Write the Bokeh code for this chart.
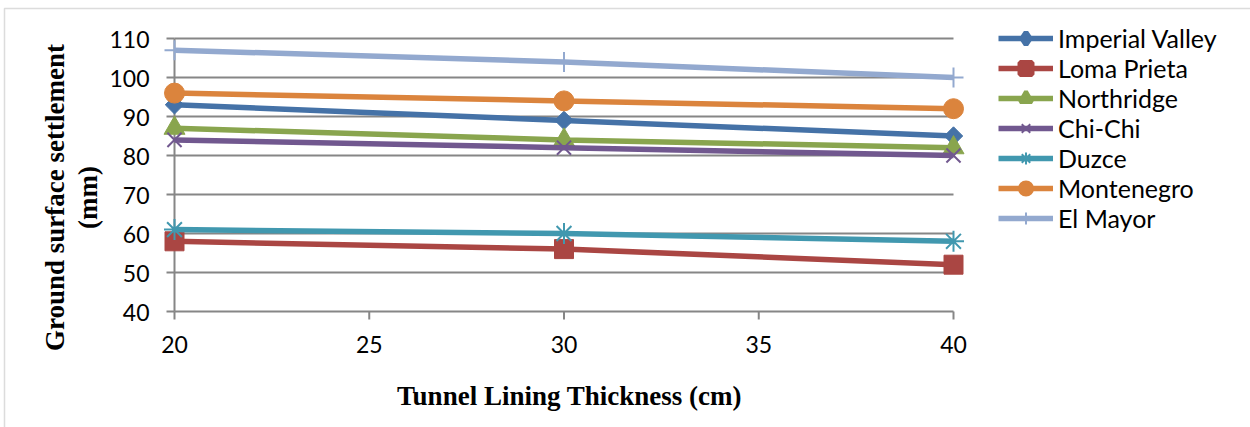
import numpy as np
from bokeh.plotting import figure
from bokeh.models import (Range1d, Legend, LegendItem, Label, BoxAnnotation,
                          ColumnDataSource)
from bokeh.core.properties import value
from bokeh.embed import file_html
from bokeh.resources import INLINE

# ---- data ----
thickness = [20, 30, 40]
series_names = ["Imperial Valley", "Loma Prieta", "Northridge", "Chi-Chi",
                "Duzce", "Montenegro", "El Mayor"]
imperial_valley = [93, 89, 85]
loma_prieta = [58, 56, 52]
northridge = [87, 84, 82]
chi_chi = [84, 82, 80]
duzce = [61, 60, 58]
montenegro = [96, 94, 92]
el_mayor = [107, 104, 100]
x_ticks = [20, 25, 30, 35, 40]
y_ticks = [40, 50, 60, 70, 80, 90, 100, 110]
x_tick_labels = [str(t) for t in x_ticks]
y_tick_labels = [str(t) for t in y_ticks]

values = [imperial_valley, loma_prieta, northridge, chi_chi, duzce,
          montenegro, el_mayor]
colors = ["#4572A7", "#AA4643", "#89A54E", "#71588F", "#4198AF",
          "#DB843D", "#93A9CF"]
# (marker, size, angle, filled, line width, legend marker, legend line width)
markers = [("square", 13, np.pi / 4, True, 1, "diamond", 5),
           ("square", 19, 0, True, 1, "square", 5),
           ("triangle", 21, 0, True, 1, "triangle", 4),
           ("x", 20, 0, False, 2, "x", 2),
           ("asterisk", 21, 0, False, 2, "asterisk", 2),
           ("circle", 20, 0, True, 1, "circle", 4),
           ("cross", 20, 0, False, 2, "cross", 2)]

GRID = "#868686"
W, H = 1250, 427
# pixel geometry of the plotting area (data 20..40 x 40..110)
PX_L, PX_R, PX_T, PX_B = 174, 953, 38, 311
xs = (PX_R - PX_L) / (x_ticks[-1] - x_ticks[0])
ys = (PX_B - PX_T) / (y_ticks[-1] - y_ticks[0])
x0 = x_ticks[0] - PX_L / xs
y0 = y_ticks[0] - (H - PX_B) / ys

p = figure(width=W, height=H, output_backend="svg", toolbar_location=None,
           x_range=Range1d(x0, x0 + W / xs), y_range=Range1d(y0, y0 + H / ys),
           x_axis_location=None, y_axis_location=None,
           min_border=0, min_border_left=0, min_border_right=0,
           min_border_top=0, min_border_bottom=0)
p.outline_line_color = None
p.grid.visible = False
p.background_fill_color = "white"
p.border_fill_color = "white"

xmin, xmax = x_ticks[0], x_ticks[-1]
ymin, ymax = y_ticks[0], y_ticks[-1]

# horizontal gridlines (value axis)
p.segment(x0=[xmin] * len(y_ticks), x1=[xmax] * len(y_ticks),
          y0=y_ticks, y1=y_ticks, line_color=GRID, line_width=2)
# y axis line and ticks
p.segment(x0=[xmin], x1=[xmin], y0=[ymin], y1=[ymax], line_color=GRID,
          line_width=2)
p.ray(x=[xmin] * len(y_ticks), y=y_ticks, length=8, length_units="screen",
      angle=np.pi, line_color=GRID, line_width=2)
# x axis ticks
p.ray(x=x_ticks, y=[ymin] * len(x_ticks), length=8, length_units="screen",
      angle=-np.pi / 2, line_color=GRID, line_width=2)
# tick labels
p.text(x=[xmin] * len(y_ticks), y=y_ticks, text=y_tick_labels,
       x_offset=-25, y_offset=1, text_align="right", text_baseline="middle",
       text_font=value("Lato"), text_font_size=value("23px"),
       text_color="black")
p.text(x=x_ticks, y=[ymin] * len(x_ticks), text=x_tick_labels,
       y_offset=33, text_align="center", text_baseline="middle",
       text_font=value("Lato"), text_font_size=value("23px"),
       text_color="black")

items = []
for name, vals, col, (mk, sz, ang, filled, lw, lmk, llw) in zip(
        series_names, values, colors, markers):
    src = ColumnDataSource(dict(x=thickness, y=vals))
    lr = p.line("x", "y", source=src, line_color=col, line_width=5.5)
    p.scatter("x", "y", source=src, marker=mk, size=sz, angle=ang,
              line_color=col, line_width=lw,
              fill_color=col if filled else None)
    # legend-only marker: a point with no y value, so it is not plotted
    leg_src = ColumnDataSource(dict(x=np.array([float(thickness[0])]),
                                    y=np.array([np.nan])))
    leg = p.scatter("x", "y", source=leg_src, marker=lmk, line_color=col,
                    line_width=llw, fill_color=col if filled else None)
    items.append(LegendItem(label=name, renderers=[lr, leg]))

legend = Legend(items=items, location=(998, H - 233), padding=0, margin=0,
                spacing=0, glyph_width=55, glyph_height=30, label_height=30,
                label_standoff=5, label_text_font="Lato",
                label_text_font_size="25px", label_text_color="black",
                border_line_color=None, background_fill_alpha=0)
p.add_layout(legend, "center")

# axis titles
p.add_layout(Label(x=569, y=H - 395, x_units="screen", y_units="screen",
                   text="Tunnel Lining Thickness (cm)", text_font="Liberation Serif",
                   text_font_style="bold", text_font_size="27px",
                   text_align="center", text_baseline="middle",
                   text_color="black"))
p.add_layout(Label(x=54, y=H - 197, x_units="screen", y_units="screen",
                   text="Ground surface settlement", angle=np.pi / 2,
                   text_font="Liberation Serif", text_font_style="bold",
                   text_font_size="27px", text_align="center",
                   text_baseline="middle", text_color="black"))
p.add_layout(Label(x=87, y=H - 197, x_units="screen", y_units="screen",
                   text="(mm)", angle=np.pi / 2,
                   text_font="Liberation Serif", text_font_style="bold",
                   text_font_size="27px", text_align="center",
                   text_baseline="middle", text_color="black"))

# outer chart border
p.add_layout(BoxAnnotation(left=4, right=W + 50, top=8, bottom=H + 50,
                           left_units="canvas", right_units="canvas",
                           top_units="canvas", bottom_units="canvas",
                           fill_alpha=0, line_color="#8C8C8C", line_width=1.5))

open("out.html", "w").write(file_html(p, INLINE))
